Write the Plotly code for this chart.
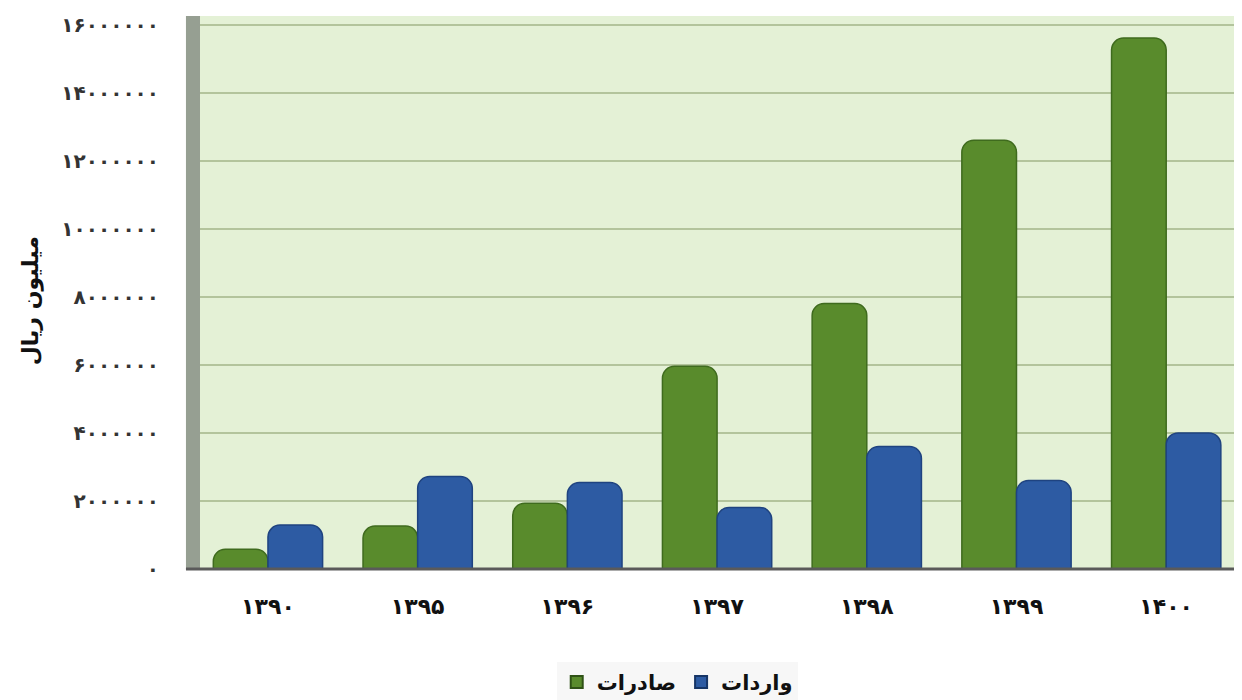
import plotly.graph_objects as go

categories = ["۱۳۹۰", "۱۳۹۵", "۱۳۹۶", "۱۳۹۷", "۱۳۹۸", "۱۳۹۹", "۱۴۰۰"]
exports = [580000, 1260000, 1930000, 5960000, 7800000, 12600000, 15600000]
imports = [1290000, 2720000, 2540000, 1810000, 3600000, 2600000, 4000000]
y_tickvals = [0, 2000000, 4000000, 6000000, 8000000, 10000000, 12000000, 14000000, 16000000]
y_ticktext = ["۰", "۲۰۰۰۰۰۰", "۴۰۰۰۰۰۰", "۶۰۰۰۰۰۰", "۸۰۰۰۰۰۰",
              "۱۰۰۰۰۰۰۰", "۱۲۰۰۰۰۰۰", "۱۴۰۰۰۰۰۰", "۱۶۰۰۰۰۰۰"]
name_exports = "صادرات"
name_imports = "واردات"
y_title = "میلیون ریال"

FONT = "DejaVu Sans"
GREEN = "#598B2C"
BLUE = "#2D5BA3"

fig = go.Figure()
fig.add_trace(go.Bar(
    x=categories, y=exports, name=name_exports, showlegend=False,
    marker=dict(color=GREEN, line=dict(color="#3F6B1E", width=1.5), cornerradius=12),
))
fig.add_trace(go.Bar(
    x=categories, y=imports, name=name_imports, showlegend=False,
    marker=dict(color=BLUE, line=dict(color="#1F4380", width=1.5), cornerradius=12),
))
# legend-only entries with square swatches
fig.add_trace(go.Scatter(
    x=[None], y=[None], mode="markers", name=name_exports,
    marker=dict(symbol="square", size=18, color=GREEN, line=dict(color="#2F5216", width=1.5)),
))
fig.add_trace(go.Scatter(
    x=[None], y=[None], mode="markers", name=name_imports,
    marker=dict(symbol="square", size=18, color=BLUE, line=dict(color="#163566", width=1.5)),
))

fig.update_layout(
    width=1234, height=692,
    margin=dict(l=192, r=2, t=8, b=131, autoexpand=False),
    paper_bgcolor="white",
    plot_bgcolor="#E4F1D6",
    barmode="group",
    bargap=0.27,
    bargroupgap=0.0,
    font=dict(family=FONT, color="#222222"),
    showlegend=True,
    legend=dict(
        orientation="h",
        x=0.343, xanchor="left",
        y=-0.168, yanchor="top",
        bgcolor="#F7F7F7",
        font=dict(size=21, family=FONT, color="#111111", weight="bold"),
        itemsizing="constant",
        itemwidth=30,
    ),
    xaxis=dict(
        type="category",
        range=[-0.454, 6.493],
        showgrid=False,
        showline=False,
        ticks="",
        tickfont=dict(size=22, family=FONT, color="#111111", weight="bold"),
        ticklabelstandoff=22,
    ),
    yaxis=dict(
        range=[0, 16250000],
        tickvals=y_tickvals,
        ticktext=y_ticktext,
        showgrid=True,
        gridcolor="#B3C49C",
        gridwidth=2,
        zeroline=False,
        showline=False,
        ticks="",
        tickfont=dict(size=20, family=FONT, color="#333333", weight="bold"),
        ticklabelstandoff=40,
    ),
    shapes=[
        dict(type="rect", xref="paper", yref="paper", x0=-0.0135, x1=0, y0=0, y1=1,
             fillcolor="#969F92", line=dict(width=0), layer="above"),
        dict(type="line", xref="paper", yref="paper", x0=-0.0135, x1=1, y0=0, y1=0,
             line=dict(color="#5A5A5A", width=3), layer="above"),
    ],
    annotations=[
        dict(text=y_title, xref="paper", yref="paper", x=-0.163, y=0.485,
             xanchor="center", yanchor="middle", textangle=-90, showarrow=False,
             font=dict(size=22, family=FONT, color="#111111", weight="bold")),
    ],
)

fig.write_html("out.html")
